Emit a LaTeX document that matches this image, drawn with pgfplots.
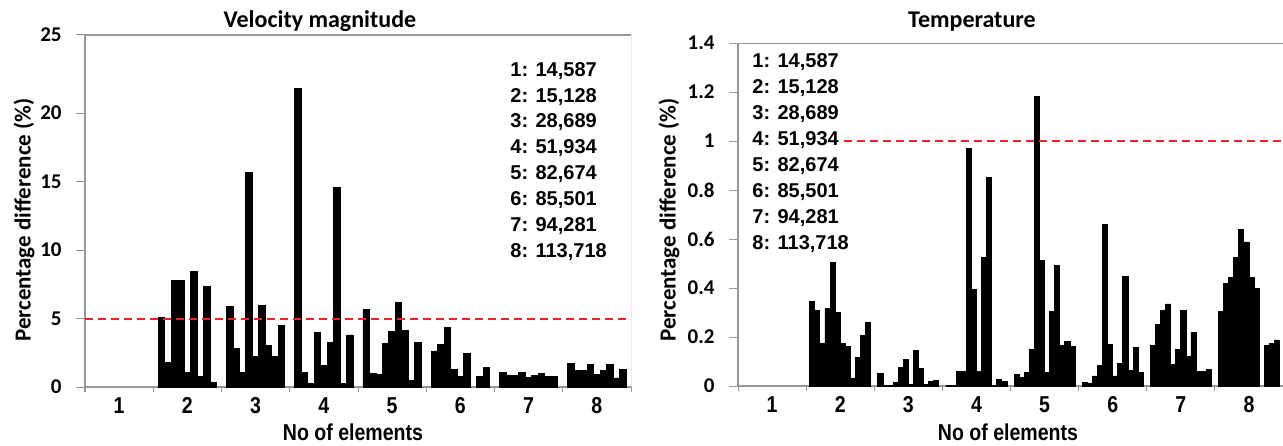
\documentclass[border=0pt]{standalone}
\usepackage{fontspec}
\setmainfont{Carlito}
\newfontfamily\arialfont{Liberation Sans}
\newfontfamily\narrowfont[FakeStretch=0.85]{Liberation Sans}
\usepackage{pgfplots}
\usepackage{pgfplotstable}
\pgfplotsset{compat=1.18}

\definecolor{axgray}{RGB}{150,150,150}
\definecolor{refred}{RGB}{235,35,40}

% Velocity magnitude: 9 bars per mesh (columns b1..b9), mesh k = 2..8
\pgfplotstableread{
k  b1    b2    b3    b4     b5    b6    b7    b8    b9
2  5.09  1.82  7.79  7.79   1.05  8.44  0.80  7.35  0.32
3  5.89  2.82  1.05  15.65  2.26  5.96  3.02  2.26  4.50
4  21.8  1.05  0.27  3.97   1.58  3.24  14.55 0.27  3.80
5  5.65  1.00  0.93  3.19   4.04  6.16  4.11  0.46  3.26
6  2.63  3.11  4.36  1.31   0.75  2.46  nan   0.75  1.44
7  1.05  0.88  0.85  1.05   0.71  0.83  1.02  0.75  0.78
8  1.70  1.19  1.24  1.65   0.90  1.24  1.65  0.66  1.27
}\veltable

% Temperature: 12 bars per mesh (columns t1..t12)
\pgfplotstableread{
k  t1    t2    t3    t4    t5    t6    t7    t8    t9    t10   t11   t12
2  0.344 0.307 0.175 0.318 0.505 0.300 0.175 0.163 0.033 0.117 0.208 0.258
3  0.052 0.004 0.004 0.015 0.077 0.109 0.005 0.145 0.072 0.008 0.018 0.024
4  0.004 0.004 0.058 0.061 0.968 0.395 0.058 0.525 0.853 0.003 0.025 0.018
5  0.048 0.035 0.054 0.150 1.181 0.511 0.054 0.306 0.493 0.167 0.181 0.163
6  0.015 0.012 0.041 0.083 0.659 0.171 0.041 0.092 0.446 0.065 0.158 0.054
7  0.167 0.252 0.310 0.335 0.088 0.150 0.310 0.120 0.219 0.058 0.060 0.069
8  0.303 0.419 0.444 0.525 0.640 0.588 0.444 0.400 nan   0.167 0.174 0.188
}\temptable

\pgfplotsset{
  common/.style={
    scale only axis, anchor=south west,
    xmin=0.5, xmax=8.5, ymin=0,
    axis x line*=bottom, axis y line*=left,
    axis line style={axgray, line width=0.6pt},
    xtick={1,...,8}, xticklabels={1,2,3,4,5,6,7,8},
    minor xtick={0.5,1.5,...,8.5},
    every major x tick/.append style={draw=none},
    every minor x tick/.append style={axgray, line width=0.5pt},
    every major y tick/.append style={axgray, line width=0.5pt},
    tick align=outside,
    major tick length=4.3pt, minor tick length=2.5pt,
    /pgf/number format/assume math mode=true,
    xticklabel style={font=\narrowfont\bfseries\fontsize{11.5}{12}\selectfont, anchor=base, yshift=-8.9pt},
    yticklabel style={font=\bfseries\fontsize{10.5}{12}\selectfont, anchor=east, inner sep=0pt, xshift=-7.2pt},
  },
  vbar/.style={ybar, bar width=0.0951, bar shift=#1, fill=black, draw=black, line width=0.4pt},
  tbar/.style={ybar, bar width=0.0745, bar shift=#1, fill=black, draw=black, line width=0.4pt},
}

\begin{document}
\begin{tikzpicture}
\useasboundingbox (0pt,0pt) rectangle (641.5pt,222.5pt);

% ---------- Velocity magnitude ----------
\begin{axis}[common, at={(42.5pt,29pt)}, width=273pt, height=176pt,
  ymax=25.7, ytick={0,5,10,15,20,25.7}, yticklabels={0,5,10,15,20,25}]
  \addplot[vbar=-0.3804] table[x=k,y=b1] {\veltable};
  \addplot[vbar=-0.2853] table[x=k,y=b2] {\veltable};
  \addplot[vbar=-0.1902] table[x=k,y=b3] {\veltable};
  \addplot[vbar=-0.0951] table[x=k,y=b4] {\veltable};
  \addplot[vbar=0]       table[x=k,y=b5] {\veltable};
  \addplot[vbar=0.0951]  table[x=k,y=b6] {\veltable};
  \addplot[vbar=0.1902]  table[x=k,y=b7] {\veltable};
  \addplot[vbar=0.2853]  table[x=k,y=b8] {\veltable};
  \addplot[vbar=0.3804]  table[x=k,y=b9] {\veltable};
  \addplot[sharp plot, refred, line width=1pt, dash pattern=on 4pt off 2.5pt] coordinates {(0.5,5) (8.5,5)};
  \draw[axgray, line width=0.8pt] (rel axis cs:0,1) -- (rel axis cs:1,1);
  \draw[refred, line width=0.5pt] (rel axis cs:1,0) -- (rel axis cs:1,1);
\end{axis}

% ---------- Temperature ----------
\begin{axis}[common, at={(369pt,29.5pt)}, width=272.5pt, height=171.5pt,
  ymax=1.4, ytick={0,0.2,...,1.4}, yticklabels={0,0.2,0.4,0.6,0.8,1,1.2,1.4}]
  \addplot[tbar=-0.40975] table[x=k,y=t1]  {\temptable};
  \addplot[tbar=-0.33525] table[x=k,y=t2]  {\temptable};
  \addplot[tbar=-0.26075] table[x=k,y=t3]  {\temptable};
  \addplot[tbar=-0.18625] table[x=k,y=t4]  {\temptable};
  \addplot[tbar=-0.11175] table[x=k,y=t5]  {\temptable};
  \addplot[tbar=-0.03725] table[x=k,y=t6]  {\temptable};
  \addplot[tbar=0.03725]  table[x=k,y=t7]  {\temptable};
  \addplot[tbar=0.11175]  table[x=k,y=t8]  {\temptable};
  \addplot[tbar=0.18625]  table[x=k,y=t9]  {\temptable};
  \addplot[tbar=0.26075]  table[x=k,y=t10] {\temptable};
  \addplot[tbar=0.33525]  table[x=k,y=t11] {\temptable};
  \addplot[tbar=0.40975]  table[x=k,y=t12] {\temptable};
  \addplot[sharp plot, refred, line width=1pt, dash pattern=on 4pt off 2.5pt] coordinates {(2.056,1) (8.5,1)};
  \draw[axgray, line width=0.8pt] (rel axis cs:0,1) -- (rel axis cs:1,1);
  \draw[axgray!60, line width=0.5pt] (rel axis cs:1,0) -- (rel axis cs:1,1);
\end{axis}

% ---------- titles and labels ----------
\node[anchor=base, font=\bfseries\fontsize{12}{14}\selectfont] at (160pt,208.5pt) {Velocity magnitude};
\node[anchor=base, font=\bfseries\fontsize{12}{14}\selectfont] at (486pt,208.5pt) {Temperature};
\node[rotate=90, font=\bfseries\fontsize{11.5}{14}\selectfont] at (12pt,112.5pt) {Percentage difference (\%)};
\node[rotate=90, font=\bfseries\fontsize{11.5}{14}\selectfont] at (334.5pt,112.5pt) {Percentage difference (\%)};
\node[anchor=base, font=\narrowfont\bfseries\fontsize{11.5}{14}\selectfont] at (176.5pt,2.5pt) {No of elements};
\node[anchor=base, font=\narrowfont\bfseries\fontsize{11.5}{14}\selectfont] at (504pt,2.5pt) {No of elements};

% ---------- mesh size annotations ----------
\node[anchor=north west, inner sep=0pt, align=left, font=\arialfont\bfseries\fontsize{10}{12.95}\selectfont] at (255pt,191.6pt)
  {1: 14,587\\2: 15,128\\3: 28,689\\4: 51,934\\5: 82,674\\6: 85,501\\7: 94,281\\8: 113,718};
\node[anchor=north west, inner sep=0pt, align=left, font=\arialfont\bfseries\fontsize{10}{12.95}\selectfont] at (376pt,195.8pt)
  {1: 14,587\\2: 15,128\\3: 28,689\\4: 51,934\\5: 82,674\\6: 85,501\\7: 94,281\\8: 113,718};
\end{tikzpicture}
\end{document}
